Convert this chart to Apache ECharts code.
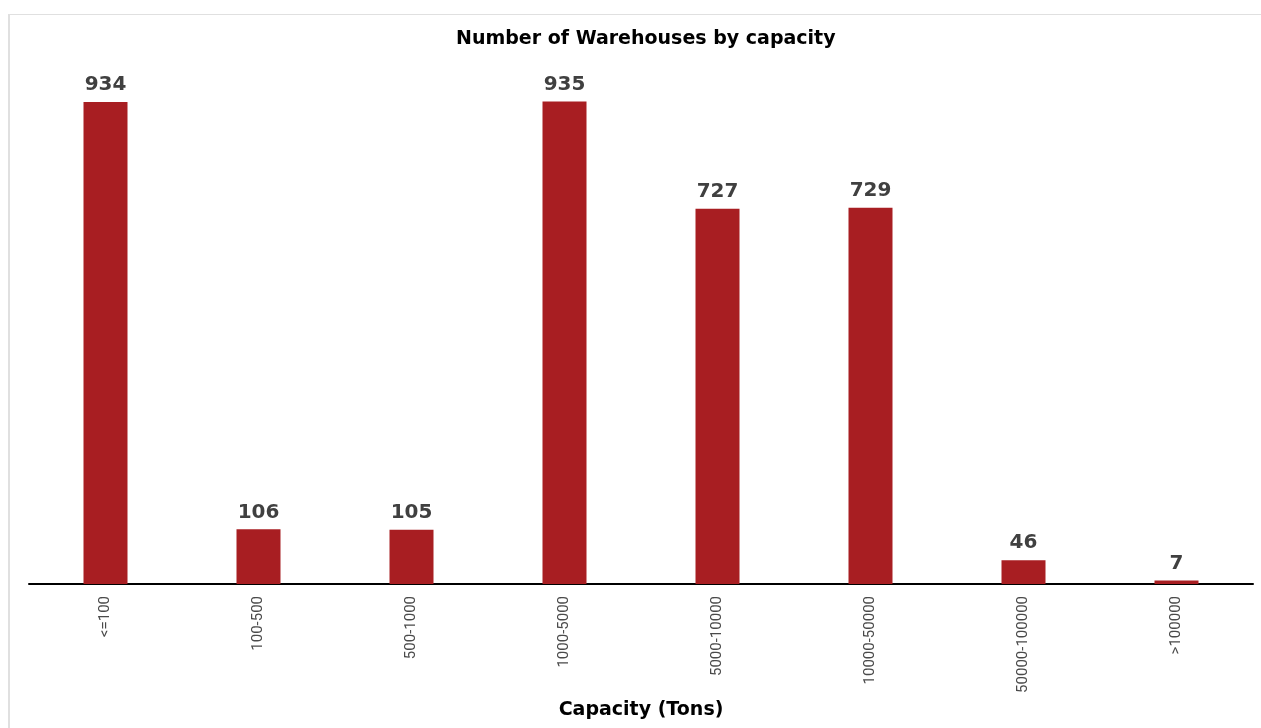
<!DOCTYPE html>
<html>
<head>
<meta charset="utf-8">
<script src="https://cdn.jsdelivr.net/npm/echarts@6/dist/echarts.min.js"></script>
<style>
  html, body { margin: 0; padding: 0; background: #fff; }
  #frame {
    position: absolute; left: 8px; top: 14px; right: 0; bottom: 0;
    border-top: 1px solid #e0e0e0; border-left: 2px solid #e0e0e0;
  }
  #chart { position: absolute; left: 0; top: 0; width: 1261px; height: 728px; }
</style>
</head>
<body>
<div id="frame"></div>
<div id="chart"></div>
<script>
// capacity bands and warehouse counts
const categories = ['<=100', '100-500', '500-1000', '1000-5000', '5000-10000', '10000-50000', '50000-100000', '>100000']
const counts = [934, 106, 105, 935, 727, 729, 46, 7]

const chart = echarts.init(document.getElementById('chart'))

chart.setOption({
  animation: false,
  title: {
    text: 'Number of Warehouses by capacity',
    left: 451,
    top: 25,
    textStyle: { fontFamily: 'DejaVu Sans', fontWeight: 'bold', fontSize: 19, color: '#000' },
  },
  grid: { left: 29, right: 8, top: 68, bottom: 144 },
  xAxis: {
    type: 'category',
    data: categories,
    name: 'Capacity (Tons)',
    nameLocation: 'middle',
    nameGap: 114,
    nameTextStyle: { fontFamily: 'DejaVu Sans', fontWeight: 'bold', fontSize: 19, color: '#000' },
    axisLine: { lineStyle: { color: '#000', width: 2 } },
    axisTick: { show: false },
    axisLabel: {
      rotate: 90,
      margin: 12,
      fontFamily: 'Liberation Sans Narrow, Roboto',
      fontSize: 15,
      color: '#4a4a4a',
    },
  },
  yAxis: {
    type: 'value',
    min: 0,
    max: 1000,
    show: false,
    splitLine: { show: false },
  },
  series: [{
    type: 'bar',
    data: counts,
    barWidth: 44,
    itemStyle: { color: '#a81e22' },
    label: {
      show: true,
      position: 'top',
      distance: 7,
      fontFamily: 'DejaVu Sans',
      fontWeight: 'bold',
      fontSize: 20,
      color: '#404040',
    },
  }],
})
</script>
</body>
</html>
